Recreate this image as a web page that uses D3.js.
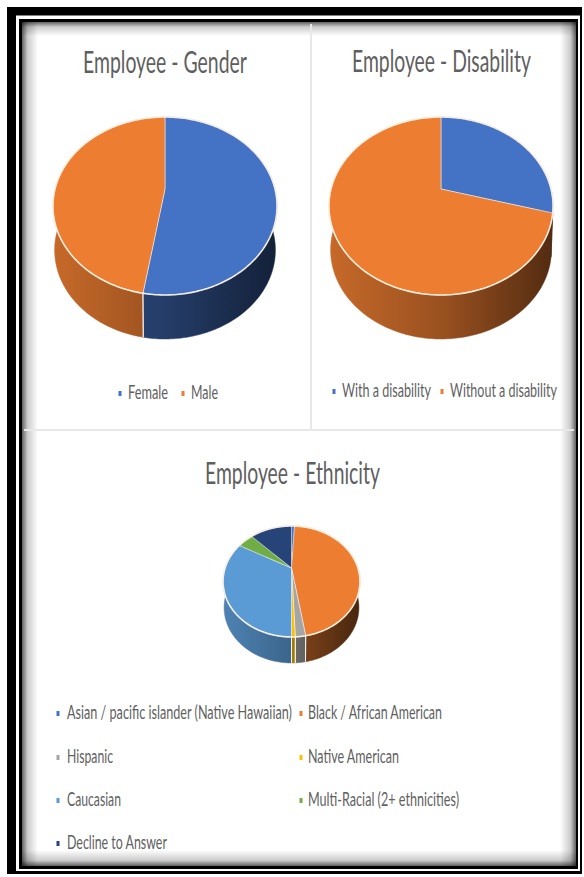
<!DOCTYPE html>
<html>
<head>
<meta charset="utf-8">
<script src="https://cdn.jsdelivr.net/npm/d3@7"></script>
<style>
  html, body { margin: 0; padding: 0; background: #fff; }
  svg { display: block; }
  text { font-family: Lato, "Open Sans", sans-serif; fill: #5f5f5f; }
</style>
</head>
<body>
<svg id="chart" width="584" height="877"></svg>
<script>
// Workforce shares, percent of employees
const genderLabels = ["Female", "Male"];
const genderValues = [52.6, 47.4];

const disabilityLabels = ["With a disability", "Without a disability"];
const disabilityValues = [29.3, 70.7];

const ethnicityLabels = [
  "Asian / pacific islander (Native Hawaiian)",
  "Black / African American",
  "Hispanic",
  "Native American",
  "Caucasian",
  "Multi-Racial (2+ ethnicities)",
  "Decline to Answer"
];
const ethnicityValues = [0.9, 46.5, 1.9, 0.7, 33.0, 4.6, 12.4];

const officePalette = ["#4472c4", "#ed7d31", "#a5a5a5", "#ffc000", "#5b9bd5", "#70ad47", "#264478"];

const svg = d3.select("#chart");
const defs = svg.append("defs");

// ---- Frame -------------------------------------------------------------
svg.append("rect").attr("x", 7).attr("y", 7).attr("width", 575).attr("height", 867).attr("fill", "#000");
svg.append("rect").attr("x", 16).attr("y", 15.5).attr("width", 564).attr("height", 855.5).attr("fill", "#fff");
svg.append("rect").attr("x", 19).attr("y", 19).attr("width", 559).attr("height", 850).attr("fill", "#000");
svg.append("rect").attr("x", 22).attr("y", 22).attr("width", 554).attr("height", 844).attr("fill", "#fff");

// Soft inner shadow along each edge of the panel
const edges = [
  { id: "edgeL", x1: 22, y1: 0, x2: 38, y2: 0, rect: [22, 22, 16, 844] },
  { id: "edgeT", x1: 0, y1: 22, x2: 0, y2: 36, rect: [22, 22, 554, 14] },
  { id: "edgeR", x1: 576, y1: 0, x2: 560, y2: 0, rect: [560, 22, 16, 844] },
  { id: "edgeB", x1: 0, y1: 866, x2: 0, y2: 850, rect: [22, 850, 554, 16] }
];
edges.forEach(e => {
  const g = defs.append("linearGradient").attr("id", e.id).attr("gradientUnits", "userSpaceOnUse")
    .attr("x1", e.x1).attr("y1", e.y1).attr("x2", e.x2).attr("y2", e.y2);
  g.append("stop").attr("offset", 0).attr("stop-color", "#000").attr("stop-opacity", 0.62);
  g.append("stop").attr("offset", 0.35).attr("stop-color", "#000").attr("stop-opacity", 0.2);
  g.append("stop").attr("offset", 1).attr("stop-color", "#000").attr("stop-opacity", 0);
  svg.append("rect").attr("x", e.rect[0]).attr("y", e.rect[1]).attr("width", e.rect[2]).attr("height", e.rect[3])
    .attr("fill", `url(#${e.id})`);
});

// Panel dividers
svg.append("line").attr("x1", 311).attr("x2", 311).attr("y1", 24).attr("y2", 430)
  .attr("stroke", "#e8e8e8").attr("stroke-width", 2);
svg.append("line").attr("x1", 24).attr("x2", 574).attr("y1", 430).attr("y2", 430)
  .attr("stroke", "#e8e8e8").attr("stroke-width", 2);

// ---- Perspective pie ---------------------------------------------------
// Wall shading runs left to right across the pie
const wallShade = [[0, 0.5], [0.5, 1.2], [1, 2.9]];
const step = Math.PI / 180;

function drawPie(name, values, colors, geo) {
  const { cx, cy, R, H, k, depth, extraShade } = geo;
  const x = d3.scaleLinear().domain([-1, 1]).range([cx - R, cx + R]);
  const y = d3.scaleLinear().domain([-1, 1]).range([cy - H, cy + H]);

  // Angle around the disc to the foreshortened screen position
  const project = (a, drop = 0, shrink = 1) => {
    const u = Math.sin(a), v = -Math.cos(a), w = 1 - k * v;
    return [cx + (x(u / w) - cx) * shrink, y(v / w) + drop];
  };
  const line = d3.line();
  const arcs = d3.pie().sort(null).value(d => d)(values);
  const samples = s => {
    const n = Math.max(1, Math.ceil((s.endAngle - s.startAngle) / step));
    return d3.range(n + 1).map(i => s.startAngle + (s.endAngle - s.startAngle) * i / n);
  };
  const g = svg.append("g");

  arcs.forEach((s, i) => {
    const base = d3.color(colors(i));
    const gradId = `${name}-wall-${i}`;
    const grad = defs.append("linearGradient").attr("id", gradId).attr("gradientUnits", "userSpaceOnUse")
      .attr("x1", cx - R).attr("x2", cx + R).attr("y1", 0).attr("y2", 0);
    wallShade.forEach(([o, d]) => {
      grad.append("stop").attr("offset", o)
        .attr("stop-color", base.darker(d + (extraShade[i] || 0)).formatHex());
    });
    const a = samples(s);
    const pts = a.map(t => project(t)).concat(a.slice().reverse().map(t => project(t, depth, 0.985)));
    g.append("path").attr("d", line(pts) + "Z").attr("fill", `url(#${gradId})`)
      .attr("stroke", `url(#${gradId})`).attr("stroke-width", 0.5);
  });

  // Pale seams on the wall where a slice ends at the front
  arcs.forEach(s => {
    [s.startAngle, s.endAngle].forEach(t => {
      if (Math.cos(t) < -0.6) {
        g.append("path").attr("d", line([project(t), project(t, depth, 0.985)]))
          .attr("stroke", "#fff").attr("stroke-opacity", 0.75).attr("stroke-width", 1).attr("fill", "none");
      }
    });
  });

  arcs.forEach((s, i) => {
    const pts = [[cx, cy]].concat(samples(s).map(t => project(t)));
    g.append("path").attr("d", line(pts) + "Z").attr("fill", colors(i))
      .attr("stroke", "#fff").attr("stroke-opacity", 0.6).attr("stroke-width", 0.8).attr("stroke-linejoin", "round");
  });

  // Bright rim around the lid
  const rim = d3.range(0, 361).map(d => project(d * step));
  g.append("path").attr("d", line(rim) + "Z").attr("fill", "none")
    .attr("stroke", "#fff4e6").attr("stroke-width", 1.6).attr("stroke-opacity", 0.9);
}

const colorOf = d3.scaleOrdinal().domain(d3.range(7)).range(officePalette);

drawPie("gender", genderValues, colorOf,
  { cx: 165, cy: 189, R: 110, H: 85.75, k: 0.191, depth: 44, extraShade: [0.55, 0] });
drawPie("disability", disabilityValues, colorOf,
  { cx: 441, cy: 189, R: 110, H: 85.75, k: 0.191, depth: 44, extraShade: [0.55, 0] });
drawPie("ethnicity", ethnicityValues, colorOf,
  { cx: 291.5, cy: 568, R: 66.4, H: 52.2, k: 0.243, depth: 26, extraShade: [0, 0.4, 0, 0, 0, 0, 0] });

// ---- Titles and legends ------------------------------------------------
// Condensed lettering: each string is squeezed horizontally to its slot
function fitted(textValue, x, y, width, size) {
  const t = svg.append("text").attr("font-size", size).text(textValue);
  const natural = t.node().getComputedTextLength();
  t.attr("transform", `translate(${x},${y}) scale(${width / natural},1)`);
  return t;
}

fitted("Employee - Gender", 83, 73, 164, 30);
fitted("Employee - Disability", 352, 72, 179, 30);
fitted("Employee - Ethnicity", 205, 484, 175, 30);

function legendEntry(label, color, markX, textX, textW, y) {
  svg.append("rect").attr("x", markX - 1.5).attr("y", y - 8).attr("width", 3).attr("height", 5).attr("fill", color);
  fitted(label, textX, y, textW, 19);
}

[[120, 128, 40], [183, 191, 27]].forEach((p, i) =>
  legendEntry(genderLabels[i], colorOf(i), p[0], p[1], p[2], 399));
[[334, 342, 89], [442, 450, 107]].forEach((p, i) =>
  legendEntry(disabilityLabels[i], colorOf(i), p[0], p[1], p[2], 397));

const ethnicitySlots = [
  [58, 67, 225, 719], [301, 308, 134, 719],
  [58, 67, 46, 763], [301, 308, 91, 763],
  [58, 67, 54, 806], [301, 308, 151, 806],
  [58, 67, 100, 849]
];
ethnicitySlots.forEach((p, i) =>
  legendEntry(ethnicityLabels[i], colorOf(i), p[0], p[1], p[2], p[3]));
</script>
</body>
</html>
